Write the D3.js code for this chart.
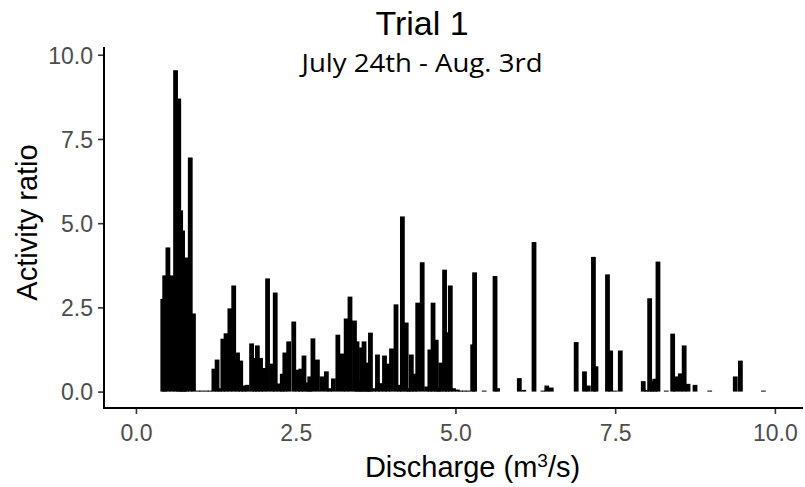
<!DOCTYPE html>
<html>
<head>
<meta charset="utf-8">
<script src="https://cdn.jsdelivr.net/npm/d3@7"></script>
<style>
  body { margin: 0; background: white; }
  svg { display: block; font-family: "Liberation Sans", Arial, sans-serif; }
</style>
</head>
<body>
<svg id="chart" width="805" height="487"></svg>
<script>
/* Data */
var discharge = [0.42, 0.45, 0.50, 0.56, 0.62, 0.67, 0.70, 0.73, 0.76, 0.79, 0.85, 0.90,
  0.97, 1.03, 1.10, 1.16, 1.22, 1.27, 1.31, 1.36, 1.41, 1.47, 1.53, 1.59, 1.64, 1.69,
  1.74, 1.81, 1.86, 1.90, 1.95, 2.00, 2.06, 2.13, 2.18, 2.24, 2.29, 2.33, 2.39, 2.47,
  2.53, 2.58, 2.63, 2.69, 2.72, 2.77, 2.84, 2.91, 2.98, 3.03, 3.09, 3.16, 3.23, 3.29,
  3.35, 3.42, 3.46, 3.50, 3.53, 3.57, 3.61, 3.64, 3.67, 3.72, 3.78, 3.83, 3.89, 3.94,
  4.00, 4.07, 4.12, 4.17, 4.23, 4.27, 4.31, 4.36, 4.41, 4.48, 4.55, 4.60, 4.65, 4.70,
  4.74, 4.77, 4.83, 4.87, 4.92, 4.97, 5.03, 5.08, 5.14, 5.20, 5.27, 5.30, 5.45, 5.62,
  5.66, 6.00, 6.07, 6.23, 6.37, 6.43, 6.50, 6.89, 7.02, 7.08, 7.16, 7.20, 7.38, 7.43,
  7.50, 7.58, 7.94, 7.99, 8.04, 8.08, 8.12, 8.17, 8.30, 8.40, 8.45, 8.52, 8.58, 8.64,
  8.75, 8.98, 9.38, 9.46, 9.82];
var activity = [2.75, 3.45, 4.28, 3.45, 9.54, 8.70, 5.38, 4.78, 3.36, 3.98, 6.95, 2.32,
  0, 0, 0, 0, 0.68, 0.95, 0.10, 1.57, 1.73, 2.47, 3.15, 1.16, 0.92, 0.18,
  0.20, 1.43, 1.00, 1.37, 1.00, 0.70, 3.36, 0.83, 2.94, 0.24, 0.53, 1.16, 1.49, 2.08,
  0.65, 0.68, 1.07, 0.27, 0.45, 1.58, 0.95, 0.45, 0.60, 0.10, 0.39, 1.69, 1.13, 2.17,
  2.82, 2.11, 1.49, 0.30, 1.31, 1.49, 0.86, 0.15, 1.75, 0.10, 1.10, 0.25, 1.07, 0.83,
  1.28, 2.59, 0.20, 5.20, 2.05, 0.10, 1.10, 0.53, 2.64, 3.84, 0.15, 1.25, 2.64, 1.54,
  0.10, 0.86, 3.62, 1.76, 3.15, 0.10, 0.06, 0, 0, 0, 1.40, 3.54, 0, 3.43,
  0.10, 0.40, 0.05, 4.44, 0, 0.18, 0.12, 1.47, 0.60, 0.18, 4.00, 0.75, 3.48, 1.22,
  0.03, 1.22, 0.31, 0.05, 2.77, 0.31, 0.38, 3.86, 0.03, 1.72, 0.45, 0.54, 1.37, 0.23,
  0.20, 0, 0.45, 0.92, 0];
var xTicks = [0, 2.5, 5, 7.5, 10];
var yTicks = [0, 2.5, 5, 7.5, 10];

/* Layout */
var panel = { left: 104, right: 803, top: 47, bottom: 408 };
var barWidth = 0.075;
var chartSVG = d3.select("svg#chart");

var x = d3.scaleLinear().domain([-0.5, 10.44]).range([panel.left, panel.right]);
var y = d3.scaleLinear().domain([-0.487, 10.23]).range([panel.bottom, panel.top]);
var fmt = d3.format(".1f");

var data = discharge.map((d, i) => ({ q: d, r: activity[i] }));

/* Bars */
chartSVG.append("g")
  .selectAll("rect")
  .data(data)
  .enter()
  .append("rect")
  .attr("x", d => x(d.q - barWidth / 2))
  .attr("width", d => x(barWidth) - x(0))
  .attr("y", d => Math.min(y(d.r), y(0) - 1))
  .attr("height", d => Math.max(y(0) - y(d.r), 1))
  .attr("fill", "black");

/* Axes */
var xAxis = chartSVG.append("g")
  .attr("transform", `translate(0, ${panel.bottom})`)
  .call(d3.axisBottom(x).tickValues(xTicks).tickFormat(fmt).tickSize(6).tickPadding(5));
var yAxis = chartSVG.append("g")
  .attr("transform", `translate(${panel.left}, 0)`)
  .call(d3.axisLeft(y).tickValues(yTicks).tickFormat(fmt).tickSize(6).tickPadding(5));

[xAxis, yAxis].forEach(function(ax) {
  ax.select(".domain").remove();
  ax.selectAll(".tick line").attr("stroke", "#333333").attr("stroke-width", 1.6);
  ax.selectAll(".tick text")
    .attr("fill", "#4d4d4d")
    .style("font-size", "23px")
    .style("font-family", "'Liberation Sans', Arial, sans-serif");
});
xAxis.selectAll(".tick text").attr("dy", "0.95em");
yAxis.selectAll(".tick text").attr("dy", "0.36em");

chartSVG.append("line")
  .attr("x1", panel.left).attr("x2", panel.left)
  .attr("y1", panel.top).attr("y2", panel.bottom + 1)
  .attr("stroke", "black").attr("stroke-width", 2);
chartSVG.append("line")
  .attr("x1", panel.left - 1).attr("x2", panel.right)
  .attr("y1", panel.bottom).attr("y2", panel.bottom)
  .attr("stroke", "black").attr("stroke-width", 2);

/* Titles */
chartSVG.append("text")
  .text("Trial 1")
  .attr("x", 422).attr("y", 35)
  .attr("text-anchor", "middle")
  .style("font-size", "34px");

chartSVG.append("text")
  .text("July 24th - Aug. 3rd")
  .attr("x", 422).attr("y", 72)
  .attr("text-anchor", "middle")
  .attr("textLength", 241)
  .attr("lengthAdjust", "spacingAndGlyphs")
  .style("font-family", "'Open Sans', 'Noto Sans', sans-serif")
  .style("font-size", "25px");

chartSVG.append("text")
  .attr("x", (panel.left + panel.right) / 2 + 19).attr("y", 477)
  .attr("text-anchor", "middle")
  .style("font-size", "29px")
  .html('Discharge (m<tspan font-size="19px" dy="-10">3</tspan><tspan dy="10">/s)</tspan>');

chartSVG.append("text")
  .text("Activity ratio")
  .attr("transform", `translate(37, ${(panel.top + panel.bottom) / 2 - 5}) rotate(-90)`)
  .attr("text-anchor", "middle")
  .style("font-size", "29px");
</script>
</body>
</html>
